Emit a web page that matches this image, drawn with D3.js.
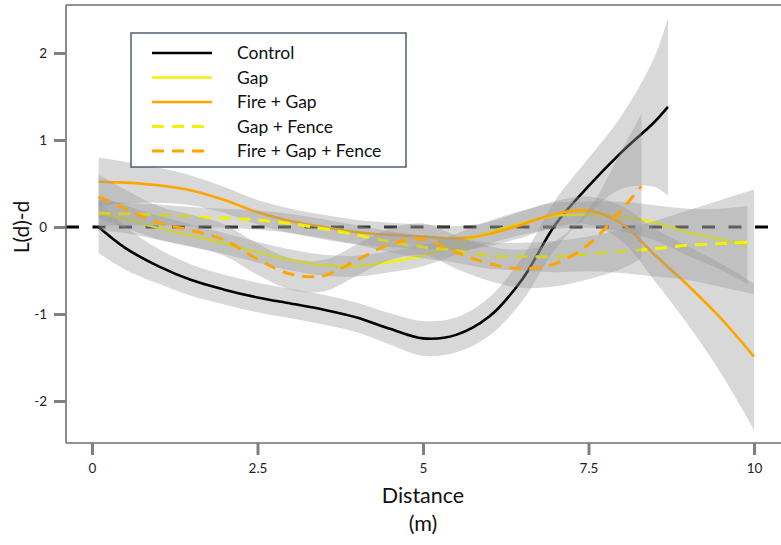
<!DOCTYPE html>
<html>
<head>
<meta charset="utf-8">
<script src="https://cdn.jsdelivr.net/npm/d3@7"></script>
<style>
  html, body { margin: 0; padding: 0; background: #fff; }
  svg { display: block; }
  text { font-family: Lato, "Open Sans", sans-serif; }
</style>
</head>
<body>
<svg id="chart" width="781" height="545"></svg>
<script>
// ---------------- DATA ----------------
const seriesNames = ["Control", "Gap", "Fire + Gap", "Gap + Fence", "Fire + Gap + Fence"];

const xTickValues = [0, 2.5, 5, 7.5, 10];
const xTickLabels = ["0", "2.5", "5", "7.5", "10"];
const yTickValues = [-2, -1, 0, 1, 2];
const yTickLabels = ["-2", "-1", "0", "1", "2"];

const distControl = [0.1, 0.5, 1, 1.5, 2, 2.5, 3, 3.5, 4, 4.5, 5, 5.5, 6, 6.5, 7, 7.5, 8, 8.5, 8.7];
const lControl    = [0.0, -0.24, -0.45, -0.61, -0.72, -0.81, -0.88, -0.95, -1.04, -1.17, -1.28, -1.24, -1.03, -0.6, 0.03, 0.47, 0.86, 1.21, 1.38];
const seControl   = [0.3, 0.25, 0.2, 0.18, 0.17, 0.17, 0.17, 0.17, 0.17, 0.18, 0.2, 0.2, 0.22, 0.25, 0.28, 0.32, 0.42, 0.75, 1.02];

const distGap = [0.1, 0.5, 1, 1.5, 2, 2.5, 3, 3.5, 4, 4.5, 5, 5.5, 6, 6.5, 7, 7.5, 8, 8.5, 9, 9.5, 9.9];
const lGap    = [0.16, 0.09, -0.01, -0.1, -0.19, -0.29, -0.38, -0.44, -0.45, -0.4, -0.33, -0.2, -0.06, 0.05, 0.13, 0.14, 0.12, 0.05, -0.06, -0.14, -0.21];
const seGap   = [0.2, 0.16, 0.14, 0.13, 0.12, 0.12, 0.12, 0.12, 0.12, 0.12, 0.12, 0.12, 0.13, 0.14, 0.15, 0.15, 0.17, 0.2, 0.27, 0.35, 0.45];

const distFireGap = [0.1, 0.5, 1, 1.5, 2, 2.5, 3, 3.5, 4, 4.5, 5, 5.5, 6, 6.5, 7, 7.5, 8, 8.5, 9, 9.5, 10];
const lFireGap    = [0.52, 0.51, 0.48, 0.42, 0.31, 0.17, 0.07, 0.0, -0.06, -0.09, -0.11, -0.13, -0.08, 0.03, 0.15, 0.19, 0.04, -0.32, -0.67, -1.05, -1.49];
const seFireGap   = [0.28, 0.24, 0.2, 0.17, 0.15, 0.14, 0.14, 0.14, 0.14, 0.14, 0.14, 0.14, 0.14, 0.15, 0.15, 0.16, 0.2, 0.3, 0.45, 0.63, 0.84];

const distGapFence = [0.1, 0.5, 1, 1.5, 2, 2.5, 3, 3.5, 4, 4.5, 5, 5.5, 6, 6.5, 7, 7.5, 8, 8.5, 9, 9.5, 10];
const lGapFence    = [0.16, 0.15, 0.14, 0.12, 0.1, 0.08, 0.04, -0.02, -0.09, -0.17, -0.23, -0.27, -0.33, -0.34, -0.34, -0.31, -0.28, -0.25, -0.21, -0.19, -0.17];
const seGapFence   = [0.15, 0.13, 0.12, 0.11, 0.11, 0.11, 0.11, 0.11, 0.11, 0.12, 0.13, 0.14, 0.15, 0.16, 0.18, 0.2, 0.25, 0.32, 0.4, 0.5, 0.6];

const distFireGapFence = [0.1, 0.5, 1, 1.5, 2, 2.5, 3, 3.5, 4, 4.5, 5, 5.5, 6, 6.5, 7, 7.5, 8, 8.3];
const lFireGapFence    = [0.35, 0.21, 0.05, -0.04, -0.15, -0.37, -0.54, -0.56, -0.38, -0.2, -0.14, -0.29, -0.42, -0.48, -0.42, -0.2, 0.2, 0.47];
const seFireGapFence   = [0.25, 0.22, 0.19, 0.18, 0.18, 0.18, 0.18, 0.18, 0.18, 0.18, 0.18, 0.19, 0.2, 0.22, 0.26, 0.4, 0.68, 0.83];

// ---------------- BUILD ----------------
const seriesTable = [
  { name: seriesNames[0], d: distControl, l: lControl, se: seControl, color: "#000000", dash: null, w: 2.6 },
  { name: seriesNames[1], d: distGap, l: lGap, se: seGap, color: "#f2f200", dash: null, w: 2.4 },
  { name: seriesNames[2], d: distFireGap, l: lFireGap, se: seFireGap, color: "#ffa500", dash: null, w: 2.6 },
  { name: seriesNames[3], d: distGapFence, l: lGapFence, se: seGapFence, color: "#f2f200", dash: "12,8", w: 3 },
  { name: seriesNames[4], d: distFireGapFence, l: lFireGapFence, se: seFireGapFence, color: "#ffa500", dash: "12,8", w: 3 }
].map(s => ({ ...s, pts: s.d.map((x, i) => ({ x, y: s.l[i], se: s.se[i] })) }));

const svg = d3.select("#chart");
const x = d3.scaleLinear().domain([0, 10]).range([92, 754]);
const y = d3.scaleLinear().domain([-2, 2]).range([401, 53]);

const frameLeft = 66, frameTop = 5, frameBottom = 443, frameRight = 781;

// zero reference line
svg.append("line")
  .attr("x1", frameLeft).attr("x2", frameRight)
  .attr("y1", y(0)).attr("y2", y(0))
  .attr("stroke", "#000").attr("stroke-width", 3)
  .attr("stroke-dasharray", "13,13.5");

const curve = d3.curveCatmullRom.alpha(0.5);
const area = d3.area().x(p => x(p.x)).y0(p => y(p.y - p.se)).y1(p => y(p.y + p.se)).curve(curve);
const line = d3.line().x(p => x(p.x)).y(p => y(p.y)).curve(curve);

const g = svg.append("g");
seriesTable.forEach(s => {
  g.append("path").attr("d", area(s.pts))
    .attr("fill", "#999999").attr("fill-opacity", 0.38).attr("stroke", "none");
  g.append("path").attr("d", line(s.pts))
    .attr("fill", "none").attr("stroke", s.color).attr("stroke-width", s.w)
    .attr("stroke-dasharray", s.dash);
});

// frame
const frameColor = "#6e6e6e";
svg.append("line").attr("x1", frameLeft).attr("x2", frameRight).attr("y1", frameTop).attr("y2", frameTop)
  .attr("stroke", frameColor).attr("stroke-width", 1.6);
svg.append("line").attr("x1", frameLeft).attr("x2", frameRight).attr("y1", frameBottom).attr("y2", frameBottom)
  .attr("stroke", frameColor).attr("stroke-width", 1.6);
svg.append("line").attr("x1", frameLeft).attr("x2", frameLeft).attr("y1", frameTop).attr("y2", frameBottom)
  .attr("stroke", frameColor).attr("stroke-width", 1.6);

// axes
const xAxis = d3.axisBottom(x).tickValues(xTickValues)
  .tickFormat((d, i) => xTickLabels[i]).tickSize(12).tickPadding(8);
const gx = svg.append("g").attr("transform", `translate(0,${frameBottom})`).call(xAxis);
gx.select(".domain").remove();
gx.selectAll(".tick line").attr("stroke", "#808080").attr("stroke-width", 3);
gx.selectAll(".tick text").attr("fill", "#222").attr("font-size", 13.5);

const yAxis = d3.axisLeft(y).tickValues(yTickValues)
  .tickFormat((d, i) => yTickLabels[i]).tickSize(12).tickPadding(7);
const gy = svg.append("g").attr("transform", `translate(${frameLeft},0)`).call(yAxis);
gy.select(".domain").remove();
gy.selectAll(".tick line").attr("stroke", "#808080").attr("stroke-width", 3);
gy.selectAll(".tick text").attr("fill", "#222").attr("font-size", 13.5);

// axis titles
svg.append("text").attr("transform", `translate(29,${y(0)}) rotate(-90)`)
  .attr("text-anchor", "middle").attr("font-size", 21).attr("fill", "#111").text("L(d)-d");
svg.append("text").attr("x", 423).attr("y", 503)
  .attr("text-anchor", "middle").attr("font-size", 21.5).attr("fill", "#111").text("Distance");
svg.append("text").attr("x", 423).attr("y", 531)
  .attr("text-anchor", "middle").attr("font-size", 21.5).attr("fill", "#111").text("(m)");

// legend
const legend = svg.append("g");
legend.append("rect").attr("x", 131).attr("y", 33).attr("width", 275).attr("height", 134)
  .attr("fill", "#fff").attr("stroke", "#44546a").attr("stroke-width", 1.4);
const legendY = d3.scalePoint().domain(seriesNames).range([53, 151]);
seriesTable.forEach(s => {
  const yy = legendY(s.name);
  legend.append("line").attr("x1", 152).attr("x2", 212).attr("y1", yy).attr("y2", yy)
    .attr("stroke", s.color).attr("stroke-width", s.w).attr("stroke-dasharray", s.dash);
  legend.append("text").attr("x", 237).attr("y", yy).attr("dy", "0.35em")
    .attr("font-size", 17.5).attr("fill", "#111").text(s.name);
});
</script>
</body>
</html>
